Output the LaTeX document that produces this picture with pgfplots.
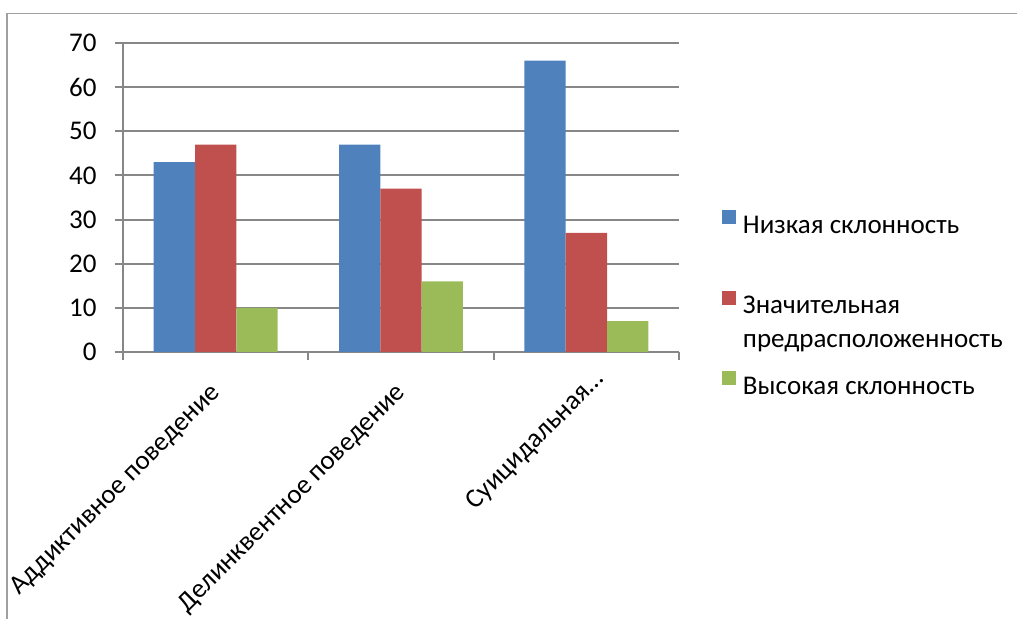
\documentclass[border=0pt]{standalone}
\usepackage{fontspec}
\setmainfont{Carlito}
\usepackage{pgfplots}
\pgfplotsset{compat=1.18}

\definecolor{blueS}{HTML}{4F81BD}
\definecolor{redS}{HTML}{C0504D}
\definecolor{greenS}{HTML}{9BBB59}
\definecolor{gridG}{HTML}{878787}
\definecolor{frameG}{HTML}{A0A0A0}

\newcommand{\lfont}{\fontsize{13.5}{16.7}\selectfont}
\newcommand{\lent}[1]{\raisebox{0pt}[10pt][4pt]{#1}}

\begin{document}
\begin{tikzpicture}[x=1pt,y=1pt]
\useasboundingbox (0,0) rectangle (508.5,309.5);
\draw[frameG, line width=0.8pt] (3.5,-2) -- (3.5,302.8) -- (512,302.8);
\begin{axis}[
    at={(61.5pt,133.5pt)}, anchor=south west,
    scale only axis, width=278pt, height=154.5pt,
    xmin=-0.5, xmax=2.5, ymin=0, ymax=70,
    ybar, bar width=0.223,
    axis lines*=left,
    axis line style={gridG, line width=1pt},
    ytick={0,10,...,70},
    ymajorgrids, grid style={gridG, line width=1pt},
    xtick={0,1,2},
    xticklabels={Аддиктивное поведение, Делинквентное поведение,
        \makebox[0pt][r]{Суицидальная…\kern-10pt}},
    minor xtick={-0.5,0.5,1.5,2.5},
    tick align=outside, major tick length=4pt, minor tick length=4pt,
    tick style={gridG, line width=1pt},
    major x tick style={draw=none},
    tick label style={font=\lfont, text=black},
    /pgf/number format/assume math mode=true,
    yticklabel style={inner sep=0pt, xshift=-9pt},
    xticklabel style={yshift=-14.5pt, xshift=0.5pt, rotate=45, anchor=east, inner sep=0pt},
    legend style={draw=none, fill=none, inner sep=0pt, outer sep=0pt,
        at={(1.0773,0.4586)}, anchor=north west, font=\lfont,
        row sep=27.2pt, column sep=3.5pt, nodes={inner sep=0pt}},
    legend cell align=left,
    legend image code/.code={\fill[#1] (0pt,0.3pt) rectangle (7pt,7.3pt);},
]
\addplot[fill=blueS, draw=none, bar shift=-0.223] coordinates {(0,43) (1,47) (2,66)};
\addplot[fill=redS, draw=none, bar shift=0] coordinates {(0,47) (1,37) (2,27)};
\addplot[fill=greenS, draw=none, bar shift=0.223] coordinates {(0,10) (1,16) (2,7)};
\legend{\lent{Низкая склонность},
    \lent{\begin{tabular}[t]{@{}l@{}}Значительная\\предрасположенность\end{tabular}},
    \lent{Высокая склонность}}
\end{axis}
\end{tikzpicture}
\end{document}
